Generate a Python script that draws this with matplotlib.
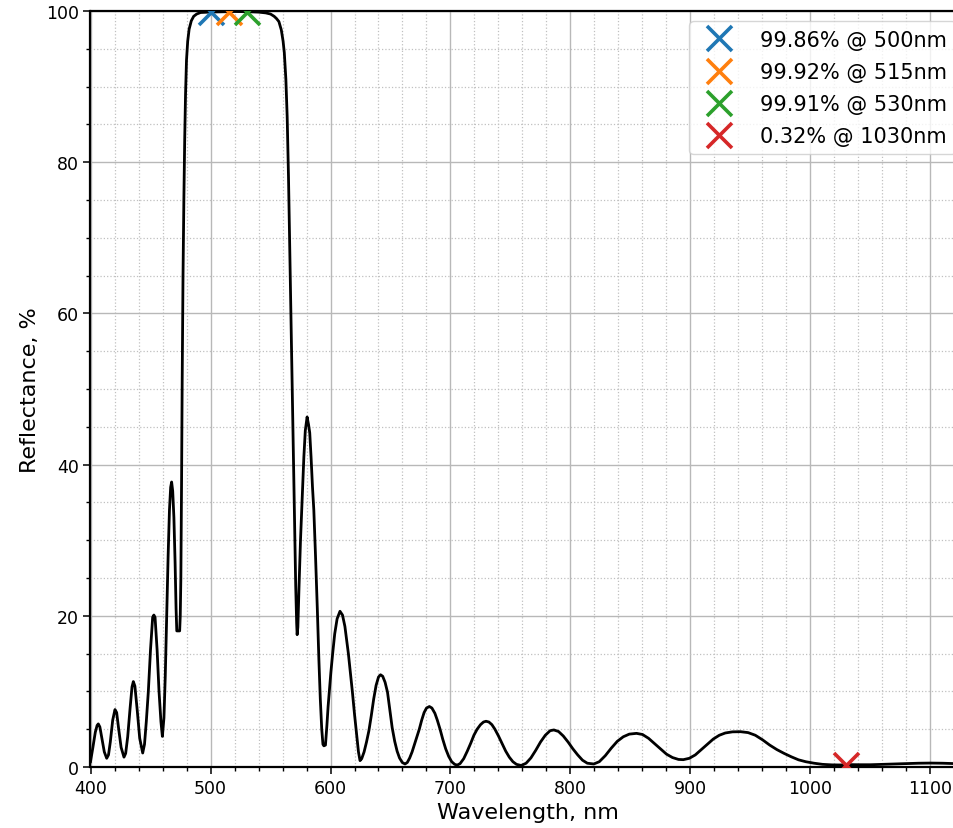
import matplotlib
matplotlib.use("Agg")
import matplotlib.pyplot as plt
from matplotlib.ticker import MultipleLocator

# ---- data ----
wavelength_nm = [
    400, 402, 404, 405.5, 406.5, 407.8, 409.5, 411.5, 413.5, 415, 416.5, 418.5, 420.4, 421.8,
    423.5, 425.5, 427.9, 429.3, 431, 433, 434.6, 435.7, 437, 439, 441, 443.5, 445, 446.5,
    448.2, 450, 451.8, 452.8, 453.8, 455.5, 457.1, 458.7, 459.9, 461.2, 462.3, 463.5, 464.7,
    465.8, 466.8, 467.6, 468.5, 469.5, 470.5, 471.3, 471.9, 474.3, 474.8, 475.3, 475.9, 476.4,
    477.1, 477.8, 478.5, 479.2, 480, 481, 482.2, 484, 486, 488.5, 491.7, 500, 510, 515, 520,
    530, 540, 546, 550, 553, 555, 557, 559, 560.5, 561.5, 562.8, 563.9, 565, 566.2, 567.2,
    568, 569, 570, 571, 571.8, 572.2, 572.8, 573.8, 575, 576.4, 577.8, 579, 580.5, 581.7,
    582.7, 583.8, 585, 586.1, 587.5, 589, 590.3, 591.5, 592.7, 593.7, 594.5, 595.8, 597,
    598, 599, 600.3, 601.8, 603.5, 605.5, 607.9, 610, 612, 614.9, 616.5, 618.2, 620, 621.8,
    623.3, 624.6, 626, 628, 630, 632, 634, 636, 638, 640, 641.7, 643.5, 645.5, 647.5, 649.5,
    651.4, 653.5, 655.5, 657.5, 659.8, 662.1, 664, 666, 668, 670, 672, 674, 676, 678, 680,
    682.4, 684.5, 687, 689, 691.3, 693.5, 696, 698.5, 701, 703.5, 705.6, 708, 711, 714, 717,
    719.5, 722.2, 725, 727.5, 729.6, 732, 734.5, 737, 740, 743, 746, 749, 752, 755, 758.9,
    763, 767, 771, 775, 779, 783, 786.1, 790, 794, 798, 802, 806, 810, 814, 819.4, 824, 829,
    834, 839, 844, 849, 855, 860, 865, 870, 875, 880, 885, 890, 894, 899, 904, 909, 914, 919,
    924, 929, 935, 941.7, 948, 954, 960, 966, 972, 978, 984, 990, 996, 1003, 1010, 1018, 1025,
    1030, 1040, 1050, 1060, 1070, 1080, 1090, 1100, 1110, 1120, 1130,
]
reflectance_pct = [
    0.7, 2.6, 4.6, 5.5, 5.7, 5.3, 3.8, 2.0, 1.15, 1.6, 3.3, 6.2, 7.6, 7.2,
    5.0, 2.6, 1.3, 1.8, 4.0, 7.8, 10.6, 11.3, 10.7, 7.4, 3.8, 1.85, 3.0, 6.0,
    10.0, 15.5, 19.8, 20.1, 19.8, 15.5, 10.0, 6.0, 4.05, 6.5, 12.0, 20.0, 28.0,
    34.0, 37.0, 37.7, 36.5, 33.0, 27.0, 21.0, 18.0, 18.0, 20.0, 25.0, 38.0, 51.0,
    65.0, 75.0, 83.0, 89.0, 93.5, 96.0, 97.6, 98.7, 99.3, 99.6, 99.8, 99.86, 99.9, 99.92, 99.93,
    99.91, 99.85, 99.75, 99.6, 99.3, 99.0, 98.6, 97.5, 96.0, 94.5, 91.0, 86.0, 78.0, 67.0, 58.0,
    51.3, 42.0, 33.0, 24.0, 19.0, 17.5, 18.5, 24.0, 30.0, 35.5, 41.0, 44.5, 46.3, 45.3,
    44.2, 41.0, 37.0, 34.0, 28.0, 21.0, 14.3, 9.0, 5.0, 3.0, 2.8, 2.9, 5.5,
    8.0, 10.0, 12.5, 15.0, 17.6, 19.6, 20.6, 20.1, 18.6, 15.0, 12.6, 10.0, 7.0, 4.2,
    2.0, 0.84, 1.1, 2.0, 3.3, 4.8, 6.8, 9.0, 10.8, 11.9, 12.2, 12.0, 11.2, 9.9, 7.5,
    5.2, 3.4, 2.1, 1.2, 0.6, 0.4, 0.6, 1.2, 2.0, 3.0, 4.0, 5.0, 6.2, 7.2, 7.8,
    8.0, 7.8, 7.1, 6.2, 5.0, 3.7, 2.4, 1.4, 0.7, 0.35, 0.25, 0.45, 1.1, 2.1, 3.2,
    4.2, 5.0, 5.6, 5.95, 6.05, 5.95, 5.6, 5.0, 4.1, 3.1, 2.1, 1.3, 0.7, 0.35, 0.2,
    0.5, 1.2, 2.2, 3.3, 4.2, 4.8, 4.9, 4.7, 4.1, 3.3, 2.4, 1.6, 0.9, 0.5, 0.4, 0.7, 1.5,
    2.5, 3.4, 4.0, 4.35, 4.45, 4.3, 3.8, 3.1, 2.4, 1.7, 1.25, 1.0, 0.97, 1.15, 1.6, 2.3, 3.0, 3.7,
    4.2, 4.5, 4.65, 4.67, 4.55, 4.2, 3.6, 2.9, 2.3, 1.8, 1.35, 0.95, 0.7, 0.5, 0.35, 0.28, 0.27,
    0.32, 0.3, 0.3, 0.35, 0.4, 0.45, 0.5, 0.52, 0.5, 0.45, 0.45,
]

marker_wl = [500, 515, 530, 1030]
marker_refl = [99.86, 99.92, 99.91, 0.32]
marker_labels = ["99.86% @ 500nm", "99.92% @ 515nm", "99.91% @ 530nm", "0.32% @ 1030nm"]
marker_colors = ["#1f77b4", "#ff7f0e", "#2ca02c", "#d62728"]

x_ticks = [400, 500, 600, 700, 800, 900, 1000, 1100]
y_ticks = [0, 20, 40, 60, 80, 100]

# ---- figure ----
W, H = 954, 829
fig = plt.figure(figsize=(W / 100, H / 100), dpi=100)
left_px, right_px, top_px, bottom_px = 90.5, 966, 12, 768
ax = fig.add_axes([left_px / W, (H - bottom_px) / H,
                   (right_px - left_px) / W, (bottom_px - top_px) / H])

ax.plot(wavelength_nm, reflectance_pct, color="black", lw=2.0, zorder=3)
for wl, r, lab, c in zip(marker_wl, marker_refl, marker_labels, marker_colors):
    ax.plot([wl], [r], linestyle="none", marker="x", markersize=18,
            markeredgewidth=2.6, color=c, label=lab, zorder=4)

ax.set_xlim(400, 400 + (right_px - left_px) / 1.2)
ax.set_ylim(0, 100)
ax.set_xticks(x_ticks)
ax.set_yticks(y_ticks)
ax.xaxis.set_minor_locator(MultipleLocator(20))
ax.yaxis.set_minor_locator(MultipleLocator(5))

ax.grid(which="major", color="#b8b8b8", lw=1.0, zorder=0)
ax.grid(which="minor", color="#c0c0c0", lw=0.9, linestyle=":", zorder=0)
ax.set_axisbelow(True)

for s in ax.spines.values():
    s.set_linewidth(1.6)
ax.tick_params(which="major", length=5, width=1.1, labelsize=12.5, direction="out")
ax.tick_params(which="minor", length=3, width=1.0, direction="out")

ax.set_xlabel("Wavelength, nm", fontsize=16)
ax.set_ylabel("Reflectance, %", fontsize=16)

ax.legend(loc="upper right", fontsize=15, labelspacing=0.58, handletextpad=1.0,
          borderaxespad=0.5)

fig.savefig("out.png", dpi=100)
